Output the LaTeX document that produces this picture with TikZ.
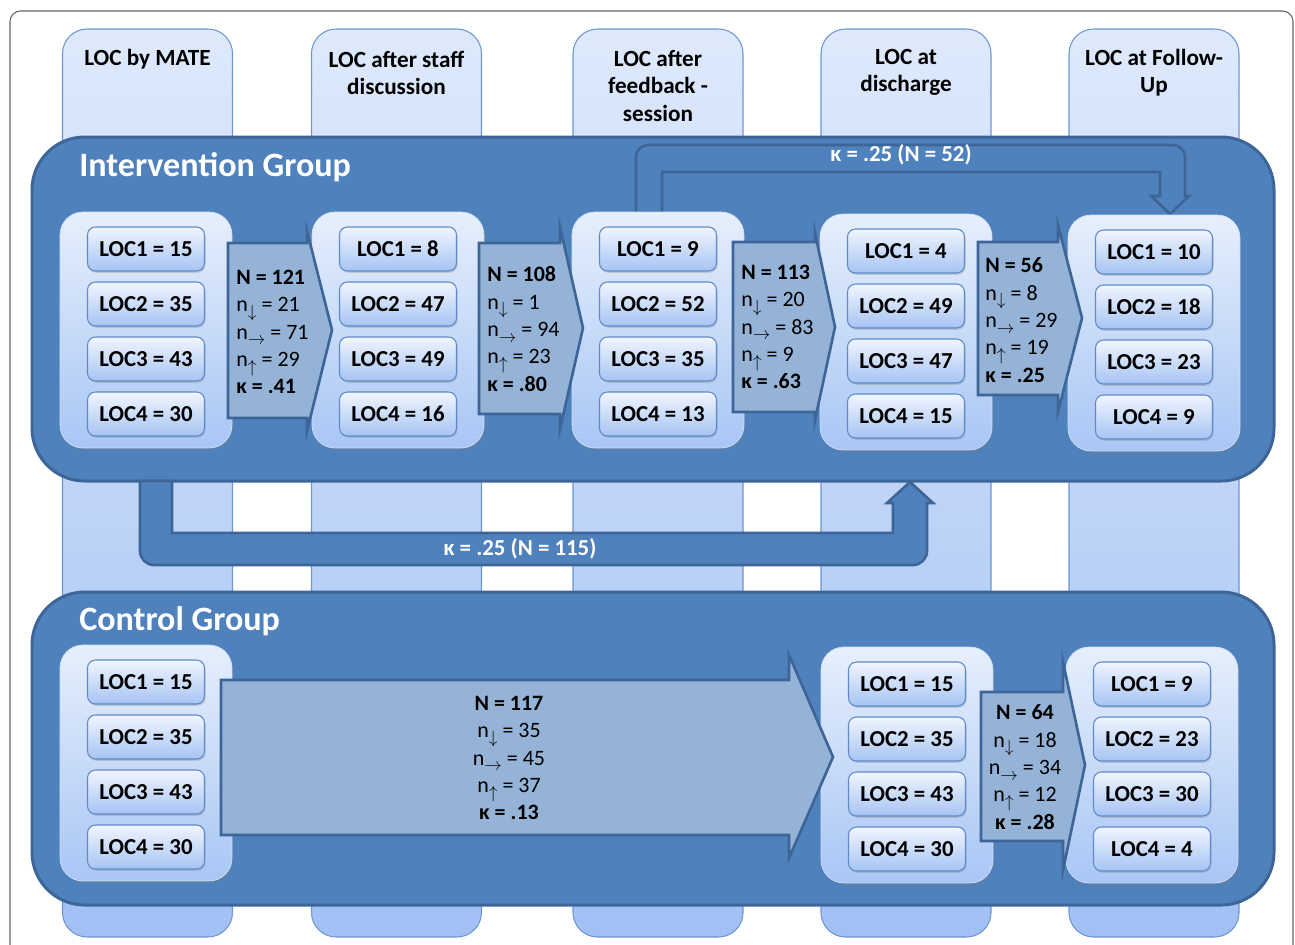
\documentclass[tikz,border=0pt]{standalone}
\usepackage{fontspec}
\setmainfont{Carlito}
\usetikzlibrary{calc,shadows}

\definecolor{grpblue}{HTML}{4F81BD}
\definecolor{grpedge}{HTML}{3D6597}
\definecolor{coltop}{HTML}{DEE9FB}
\definecolor{colbot}{HTML}{A1C0F4}
\definecolor{coledge}{HTML}{6E96CF}
\definecolor{stgtop}{HTML}{E6EFFC}
\definecolor{stgbot}{HTML}{A9C6F5}
\definecolor{loctop}{HTML}{F0F5FE}
\definecolor{locbot}{HTML}{A7C4F3}
\definecolor{locedge}{HTML}{5F8AC8}
\definecolor{arrfill}{HTML}{95B3D7}

\tikzset{
  colbar/.style={top color=coltop, bottom color=colbot, draw=coledge, line width=0.6pt, rounded corners=14pt},
  colhead/.style={font=\fontsize{13.2}{15.4}\selectfont\bfseries, align=center, inner sep=0pt},
  grpbg/.style={fill=grpblue, draw=grpedge, line width=1.7pt, rounded corners=30pt},
  grptitle/.style={font=\fontsize{19.4}{22}\selectfont\bfseries, text=white, anchor=west, inner sep=0pt},
  stagebox/.style={rounded corners=13pt, top color=stgtop, bottom color=stgbot, draw=stgtop!60!stgbot, line width=0.4pt,
    minimum width=3.44cm, minimum height=4.72cm, drop shadow={shadow xshift=0.8pt, shadow yshift=-1.2pt, opacity=0.3}},
  locbox/.style={rounded corners=4.5pt, top color=loctop, bottom color=locbot, draw=locedge, line width=0.6pt,
    minimum width=2.34cm, minimum height=0.88cm, inner sep=0pt, font=\fontsize{13}{15}\selectfont\bfseries,
    drop shadow={shadow xshift=0.6pt, shadow yshift=-1pt, opacity=0.3}},
  flowarrow/.style={fill=arrfill, draw=grpedge, line width=1.5pt},
  flowtext/.style={font=\fontsize{12.5}{15.6}\selectfont, inner sep=0pt},
  bendarrow/.style={fill=grpblue, draw=grpedge, line width=1.5pt},
  bendlabel/.style={font=\fontsize{13}{15}\selectfont\bfseries, text=white, inner sep=0pt}
}

% arrow written low beside the n
\newcommand\dirsub[1]{\raisebox{-0.55ex}{\fontsize{10}{10}\selectfont$#1$}}
% counts shown inside a flow arrow
\newcommand\flowcounts[5]{\textbf{N = #1}\\n\dirsub{\downarrow} = #2\\n\dirsub{\rightarrow} = #3\\n\dirsub{\uparrow} = #4\\\textbf{κ = .#5}}

\begin{document}
\begin{tikzpicture}[x=0.02cm, y=-0.02cm]
  \useasboundingbox (0,0) rectangle (1295,944);
  \draw[gray!80!black, line width=0.6pt, rounded corners=6pt] (10,11) rectangle (1293,970);

  % time points
  \foreach \cx in {147.5,396.5,658,906,1154}
    \draw[colbar] (\cx-85,29) rectangle (\cx+85,937);
  \node[colhead] (h1) at (147.5,59) {LOC by MATE};
  \node[colhead] (h2) at (396.5,72.5) {LOC after staff\\discussion};
  \node[colhead] (h3) at (658,86) {LOC after\\feedback -\\session};
  \node[colhead] (h4) at (906,72.5) {LOC at\\discharge};
  \node[colhead] (h5) at (1154,72.5) {LOC at Follow-\\Up};

  % groups
  \draw[grpbg] (32,137) rectangle (1274,481);
  \draw[grpbg] (32,592) rectangle (1274,905);
  \node[grptitle] (ititle) at (79,167) {Intervention Group};
  \node[grptitle] (ctitle) at (79,621) {Control Group};

  % long range agreement
  \draw[bendarrow] (636,213) -- (636,157) arc[start angle=180, end angle=270, radius=12] -- (1173,145)
    arc[start angle=270, end angle=360, radius=12] -- (1185,196) -- (1189,196) -- (1170,214) -- (1151,196)
    -- (1160,196) -- (1160,172) -- (662,172) -- (662,213) -- cycle;
  \node[bendlabel] (k52) at (901,155) {κ = .25 (N = 52)};
  \draw[bendarrow] (140,481) -- (140,551) arc[start angle=180, end angle=90, radius=14] -- (913,565)
    arc[start angle=90, end angle=0, radius=14] -- (927,503) -- (933,503) -- (910,482) -- (887,503)
    -- (893,503) -- (893,533) -- (172,533) -- (172,481) -- cycle;
  \node[bendlabel] (k115) at (520,549) {κ = .25 (N = 115)};

  % stages
  \node[stagebox] (i1) at (146,330) {};
  \node[stagebox] (i2) at (398,330) {};
  \node[stagebox] (i3) at (658,330) {};
  \node[stagebox] (i4) at (906,332) {};
  \node[stagebox] (i5) at (1154,333) {};
  \node[stagebox] (c1) at (146,763) {};
  \node[stagebox] (c4) at (907,765) {};
  \node[stagebox] (c5) at (1152,765) {};
  \foreach \g/\vals in {i1/{15,35,43,30}, i2/{8,47,49,16}, i3/{9,52,35,13}, i4/{4,49,47,15},
      i5/{10,18,23,9}, c1/{15,35,43,30}, c4/{15,35,43,30}, c5/{9,23,30,4}}
    \foreach \v [count=\k] in \vals
      \node[locbox] (\g l\k) at ($(\g)+(0,{-81+55*(\k-1)})$) {LOC\k{} = \v};

  % transitions
  \draw[flowarrow] (228,243) -- (307,243) -- (307,231) -- (332,330) -- (307,431) -- (307,418) -- (228,418) -- cycle;
  \draw[flowarrow] (479,243) -- (560,243) -- (560,227) -- (583,328) -- (560,429) -- (560,414) -- (479,414) -- cycle;
  \draw[flowarrow] (733,242) -- (815,242) -- (815,233) -- (835,327) -- (815,420) -- (815,412) -- (733,412) -- cycle;
  \draw[flowarrow] (978,242) -- (1058,242) -- (1058,225) -- (1082,318) -- (1058,412) -- (1058,395) -- (978,395) -- cycle;
  \draw[flowarrow] (221,680) -- (789,680) -- (789,655) -- (833,757) -- (789,858) -- (789,835) -- (221,835) -- cycle;
  \draw[flowarrow] (981,692) -- (1063,692) -- (1063,662) -- (1085,765) -- (1063,870) -- (1063,841) -- (981,841) -- cycle;
  \node[flowtext, align=left, anchor=west] (t1) at (236,332) {\flowcounts{121}{21}{71}{29}{41}};
  \node[flowtext, align=left, anchor=west] (t2) at (487,329) {\flowcounts{108}{1}{94}{23}{80}};
  \node[flowtext, align=left, anchor=west] (t3) at (741,327) {\flowcounts{113}{20}{83}{9}{63}};
  \node[flowtext, align=left, anchor=west] (t4) at (985,320) {\flowcounts{56}{8}{29}{19}{25}};
  \node[flowtext, align=center] (t5) at (509,758) {\flowcounts{117}{35}{45}{37}{13}};
  \node[flowtext, align=center] (t6) at (1025,767) {\flowcounts{64}{18}{34}{12}{28}};
\end{tikzpicture}
\end{document}
